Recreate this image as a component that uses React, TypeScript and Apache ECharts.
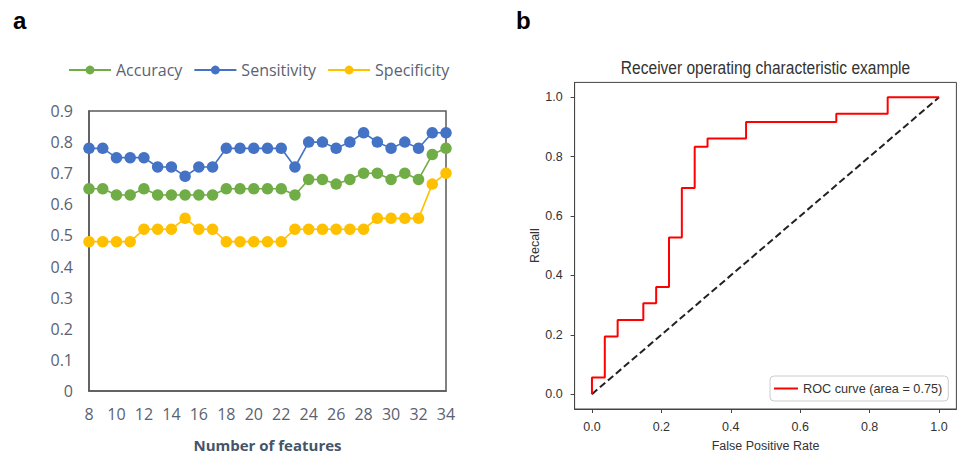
import React, { useEffect, useRef } from "react";
import * as echarts from "echarts";

const features = [8, 9, 10, 11, 12, 13, 14, 15, 16, 17, 18, 19, 20, 21, 22, 23, 24, 25, 26, 27, 28, 29, 30, 31, 32, 33, 34];
const accuracy = [0.65, 0.65, 0.63, 0.63, 0.65, 0.63, 0.63, 0.63, 0.63, 0.63, 0.65, 0.65, 0.65, 0.65, 0.65, 0.63, 0.68, 0.68, 0.665, 0.68, 0.7, 0.7, 0.68, 0.7, 0.68, 0.76, 0.78];
const sensitivity = [0.78, 0.78, 0.75, 0.75, 0.75, 0.72, 0.72, 0.69, 0.72, 0.72, 0.78, 0.78, 0.78, 0.78, 0.78, 0.72, 0.8, 0.8, 0.78, 0.8, 0.83, 0.8, 0.78, 0.8, 0.78, 0.83, 0.83];
const specificity = [0.48, 0.48, 0.48, 0.48, 0.52, 0.52, 0.52, 0.555, 0.52, 0.52, 0.48, 0.48, 0.48, 0.48, 0.48, 0.52, 0.52, 0.52, 0.52, 0.52, 0.52, 0.555, 0.555, 0.555, 0.555, 0.665, 0.7];

const fpr = [0, 0, 0.037, 0.037, 0.074, 0.074, 0.148, 0.148, 0.185, 0.185, 0.222, 0.222, 0.259, 0.259, 0.296, 0.296, 0.333, 0.333, 0.444, 0.444, 0.704, 0.704, 0.852, 0.852, 1.0];
const tpr = [0, 0.056, 0.056, 0.194, 0.194, 0.25, 0.25, 0.306, 0.306, 0.361, 0.361, 0.528, 0.528, 0.694, 0.694, 0.833, 0.833, 0.861, 0.861, 0.917, 0.917, 0.944, 0.944, 1.0, 1.0];
const chanceX = [0, 1];
const chanceY = [0, 1];
const rocTicks = [0, 0.2, 0.4, 0.6, 0.8, 1.0];
const rocName = "ROC curve (area = 0.75)";

const officeFont = "'Open Sans', 'Noto Sans', sans-serif";
const mplFont = "'Liberation Sans', Arial, sans-serif";
const excelText = "#5a6272";

export default function App() {
  const ref = useRef<HTMLDivElement>(null);
  useEffect(() => {
    if (!ref.current) return;
    const chart = echarts.init(ref.current, null, { renderer: "svg" });
    const pairs = (xs: number[], ys: number[]) => xs.map((x, i) => [x, ys[i]]);
    const excelSeries = (name: string, color: string, vals: number[]) => ({
      name,
      type: "line",
      xAxisIndex: 0,
      yAxisIndex: 0,
      data: pairs(features, vals),
      symbol: "circle",
      symbolSize: 11.5,
      itemStyle: { color },
      lineStyle: { color, width: 1.6 },
    });
    chart.setOption({
      animation: false,
      backgroundColor: "#ffffff",
      graphic: [
        { type: "text", x: 13, y: 20, style: { text: "a", font: "bold 24px 'Liberation Sans', Arial, sans-serif", fill: "#000", verticalAlign: "middle" } },
        { type: "text", x: 516, y: 20, style: { text: "b", font: "bold 24px 'Liberation Sans', Arial, sans-serif", fill: "#000", verticalAlign: "middle" } },
        {
          type: "text",
          x: 765.5,
          y: 68,
          scaleX: 0.84,
          style: { text: "Receiver operating characteristic example", font: `18.5px ${mplFont}`, fill: "#333", align: "center", verticalAlign: "middle" },
        },
      ],
      legend: [
        {
          data: ["Accuracy", "Sensitivity", "Specificity"],
          left: 68,
          top: 62,
          itemWidth: 42,
          itemHeight: 11,
          itemGap: 11,
          padding: 0,
          textStyle: { fontFamily: officeFont, fontSize: 16, color: excelText },
        },
        {
          data: [{ name: rocName, icon: "rect" }],
          left: 770,
          top: 376,
          itemWidth: 24,
          itemHeight: 2,
          padding: [6, 6, 6, 4],
          borderColor: "#cccccc",
          borderWidth: 1,
          borderRadius: 4,
          backgroundColor: "rgba(255,255,255,0.8)",
          textStyle: { fontFamily: mplFont, fontSize: 12.7, color: "#333" },
        },
      ],
      grid: [
        { left: 89, top: 111, width: 357, height: 282, show: true, borderColor: "#595959", borderWidth: 1.5, backgroundColor: "transparent" },
        { left: 574.6, top: 82.4, width: 381.8, height: 328, show: true, borderColor: "#444", borderWidth: 1, backgroundColor: "transparent" },
      ],
      xAxis: [
        {
          gridIndex: 0,
          type: "value",
          min: 8,
          max: 34,
          interval: 2,
          axisLine: { show: true, onZero: false, lineStyle: { color: "#595959", width: 1.5 } },
          axisTick: { show: false },
          splitLine: { show: false },
          axisLabel: { fontFamily: officeFont, fontSize: 16, color: excelText, margin: 15 },
          name: "Number of features",
          nameLocation: "middle",
          nameGap: 46,
          nameTextStyle: { fontFamily: officeFont, fontSize: 15, fontWeight: "bold", color: "#44546A" },
        },
        {
          gridIndex: 1,
          type: "value",
          min: -0.05,
          max: 1.05,
          axisLine: { show: true, onZero: false, lineStyle: { color: "#444", width: 1 } },
          axisTick: { show: true, length: 4, customValues: rocTicks, lineStyle: { color: "#444" } },
          splitLine: { show: false },
          axisLabel: { customValues: rocTicks, formatter: (v: number) => v.toFixed(1), fontFamily: mplFont, fontSize: 12.5, color: "#333", margin: 11 },
          name: "False Positive Rate",
          nameLocation: "middle",
          nameGap: 30,
          nameTextStyle: { fontFamily: mplFont, fontSize: 12.5, color: "#333" },
        },
      ],
      yAxis: [
        {
          gridIndex: 0,
          type: "value",
          min: 0,
          max: 0.9,
          interval: 0.1,
          axisLine: { show: true, onZero: false, lineStyle: { color: "#595959", width: 1.5 } },
          axisTick: { show: false },
          splitLine: { show: false },
          axisLabel: { fontFamily: officeFont, fontSize: 16, color: excelText, margin: 16, formatter: (v: number) => (v === 0 ? "0" : v.toFixed(1)) },
        },
        {
          gridIndex: 1,
          type: "value",
          min: -0.05,
          max: 1.05,
          axisLine: { show: true, onZero: false, lineStyle: { color: "#444", width: 1 } },
          axisTick: { show: true, length: 4, customValues: rocTicks, lineStyle: { color: "#444" } },
          splitLine: { show: false },
          axisLabel: { customValues: rocTicks, formatter: (v: number) => v.toFixed(1), fontFamily: mplFont, fontSize: 12.5, color: "#333", margin: 12 },
          name: "Recall",
          nameLocation: "middle",
          nameGap: 29,
          nameTextStyle: { fontFamily: mplFont, fontSize: 12.5, color: "#333" },
        },
      ],
      series: [
        excelSeries("Accuracy", "#70AD47", accuracy),
        excelSeries("Sensitivity", "#4472C4", sensitivity),
        excelSeries("Specificity", "#FFC000", specificity),
        {
          name: "chance",
          type: "line",
          xAxisIndex: 1,
          yAxisIndex: 1,
          data: pairs(chanceX, chanceY),
          symbol: "none",
          lineStyle: { color: "#222", width: 2, type: [7, 3.5] },
        },
        {
          name: rocName,
          type: "line",
          xAxisIndex: 1,
          yAxisIndex: 1,
          data: pairs(fpr, tpr),
          symbol: "none",
          itemStyle: { color: "#ff0000" },
          lineStyle: { color: "#ff0000", width: 2 },
        },
      ],
    });
    return () => chart.dispose();
  }, []);
  return <div ref={ref} style={{ position: "absolute", left: 0, top: 0, width: 959, height: 457, background: "#fff" }} />;
}
